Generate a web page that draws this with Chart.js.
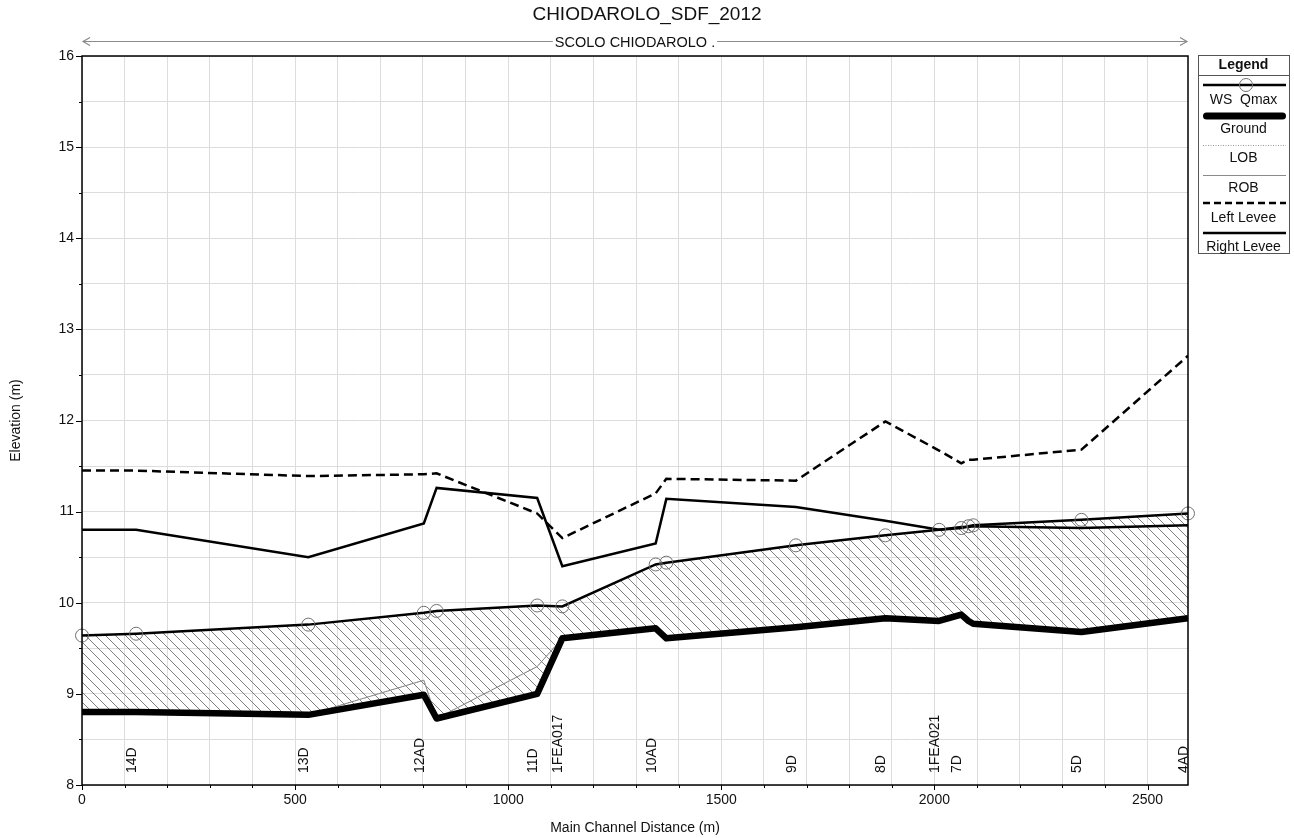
<!DOCTYPE html>
<html>
<head>
<meta charset="utf-8">
<script src="https://cdn.jsdelivr.net/npm/chart.js@4.4.1/dist/chart.umd.min.js"></script>
<style>
  html, body { margin: 0; padding: 0; background: #fff; }
  canvas { display: block; }
</style>
</head>
<body>
<canvas id="profile" width="1294" height="838"></canvas>
<script>
// Cross-section stations along the main channel (m)
const stations   = [0, 127, 531, 802, 832, 1068, 1127, 1346, 1371, 1675, 1885, 2011, 2063, 2080, 2091, 2345, 2595];
const xsNames    = ['', '14D', '13D', '12AD', '', '11D', '1FEA017', '10AD', '', '9D', '8D', '1FEA021', '7D', '', '', '5D', '4AD'];
// Elevations (m)
const wsQmax     = [9.64, 9.66, 9.76, 9.89, 9.91, 9.97, 9.96, 10.42, 10.44, 10.63, 10.74, 10.80, 10.82, 10.84, 10.85, 10.91, 10.98];
const ground     = [8.80, 8.80, 8.77, 8.99, 8.73, 9.00, 9.61, 9.72, 9.61, 9.73, 9.83, 9.80, 9.87, 9.80, 9.77, 9.68, 9.83];
const lob        = [8.80, 8.80, 8.77, 9.15, 8.73, 9.30, 9.61, 9.72, 9.61, 9.73, 9.83, 9.80, 9.87, 9.80, 9.77, 9.68, 9.83];
const rob        = [8.80, 8.80, 8.77, 9.15, 8.73, 9.30, 9.61, 9.72, 9.61, 9.73, 9.83, 9.80, 9.87, 9.80, 9.77, 9.68, 9.83];
const leftLevee  = [11.45, 11.45, 11.39, 11.41, 11.42, 10.98, 10.71, 11.20, 11.36, 11.34, 11.99, 11.67, 11.53, 11.57, 11.57, 11.68, 12.71];
const rightLevee = [10.80, 10.80, 10.50, 10.87, 11.26, 11.15, 10.40, 10.65, 11.14, 11.05, 10.90, 10.80, 10.83, 10.83, 10.84, 10.82, 10.85];
// Axis ticks
const xTicks = [0, 100, 200, 300, 400, 500, 600, 700, 800, 900, 1000, 1100, 1200, 1300, 1400, 1500, 1600, 1700, 1800, 1900, 2000, 2100, 2200, 2300, 2400, 2500];
const xLabels = [0, 500, 1000, 1500, 2000, 2500];
const yTicks = [8, 8.5, 9, 9.5, 10, 10.5, 11, 11.5, 12, 12.5, 13, 13.5, 14, 14.5, 15, 15.5, 16];
const yLabels = [8, 9, 10, 11, 12, 13, 14, 15, 16];

const FONT = '"Liberation Sans", Arial, sans-serif';
const pts = arr => stations.map((s, i) => ({ x: s, y: arr[i] }));

// diagonal hatch used for the flow area
function hatchPattern() {
  const size = 10;
  const c = document.createElement('canvas');
  c.width = size; c.height = size;
  const g = c.getContext('2d');
  g.strokeStyle = '#707070';
  g.lineWidth = 0.9;
  g.beginPath();
  g.moveTo(-1, -1); g.lineTo(size + 1, size + 1);
  g.moveTo(-1, size - 1); g.lineTo(1, size + 1);
  g.moveTo(size - 1, -1); g.lineTo(size + 1, 1);
  g.stroke();
  return g.createPattern(c, 'repeat');
}

const decorations = {
  id: 'decorations',
  afterDatasetsDraw(chart) {
    const { ctx, chartArea: a, scales: { x, y } } = chart;
    ctx.save();
    // frame
    ctx.strokeStyle = '#000';
    ctx.lineWidth = 1.5;
    ctx.strokeRect(a.left, a.top, a.right - a.left, a.bottom - a.top);
    // tick marks
    ctx.lineWidth = 1;
    ctx.beginPath();
    yTicks.forEach(v => {
      const py = Math.round(y.getPixelForValue(v)) + 0.5;
      const len = yLabels.includes(v) ? 6 : 3;
      ctx.moveTo(a.left - len, py); ctx.lineTo(a.left, py);
    });
    xTicks.forEach(v => {
      const px = Math.round(x.getPixelForValue(v)) + 0.5;
      const len = xLabels.includes(v) ? 5 : 3;
      ctx.moveTo(px, a.bottom); ctx.lineTo(px, a.bottom + len);
    });
    ctx.stroke();
    // cross-section names
    ctx.fillStyle = '#111';
    ctx.font = '14px ' + FONT;
    ctx.textAlign = 'left';
    ctx.textBaseline = 'alphabetic';
    stations.forEach((s, i) => {
      if (!xsNames[i]) return;
      const px = x.getPixelForValue(s);
      ctx.save();
      ctx.translate(px, a.bottom - 12);
      ctx.rotate(-Math.PI / 2);
      ctx.fillText(xsNames[i], 0, 0);
      ctx.restore();
    });
    ctx.restore();
  },
  afterDraw(chart) {
    const { ctx, chartArea: a } = chart;
    ctx.save();
    ctx.fillStyle = '#111';
    ctx.textAlign = 'center';
    ctx.textBaseline = 'middle';
    // title
    ctx.font = '19px ' + FONT;
    ctx.fillText('CHIODAROLO_SDF_2012', chart.width / 2, 15);
    // reach arrow with its name
    const ay = 41.5;
    ctx.strokeStyle = '#8a8a8a';
    ctx.lineWidth = 1.2;
    ctx.beginPath();
    ctx.moveTo(a.left + 1, ay); ctx.lineTo(a.right - 1, ay);
    ctx.moveTo(a.left + 8, ay - 4); ctx.lineTo(a.left + 1, ay); ctx.lineTo(a.left + 8, ay + 4);
    ctx.moveTo(a.right - 8, ay - 4); ctx.lineTo(a.right - 1, ay); ctx.lineTo(a.right - 8, ay + 4);
    ctx.stroke();
    ctx.font = '14.5px ' + FONT;
    const reach = 'SCOLO CHIODAROLO .';
    const cx = (a.left + a.right) / 2;
    const w = ctx.measureText(reach).width;
    ctx.fillStyle = '#fff';
    ctx.fillRect(cx - w / 2 - 2, ay - 8, w + 4, 16);
    ctx.fillStyle = '#111';
    ctx.fillText(reach, cx, ay + 1);
    // axis titles
    ctx.font = '14px ' + FONT;
    ctx.fillText('Main Channel Distance (m)', cx, 828);
    ctx.save();
    ctx.translate(16, (a.top + a.bottom) / 2);
    ctx.rotate(-Math.PI / 2);
    ctx.fillText('Elevation (m)', 0, 0);
    ctx.restore();

    // legend box
    const L = 1198, R = 1289, T = 55, B = 253, mid = (L + R) / 2;
    const x0 = L + 5, x1 = R - 3;
    ctx.strokeStyle = '#555';
    ctx.lineWidth = 1;
    ctx.strokeRect(L + 0.5, T + 0.5, R - L, B - T);
    ctx.beginPath(); ctx.moveTo(L, 75.5); ctx.lineTo(R, 75.5); ctx.stroke();
    ctx.font = 'bold 14px ' + FONT;
    ctx.fillText('Legend', mid, 65);
    ctx.font = '14px ' + FONT;
    const seg = (yy, color, width, dash, inset) => {
      const d = inset || 0;
      ctx.save();
      ctx.strokeStyle = color; ctx.lineWidth = width; ctx.setLineDash(dash || []);
      ctx.beginPath(); ctx.moveTo(x0 + d, yy); ctx.lineTo(x1 - d, yy); ctx.stroke();
      ctx.restore();
    };
    seg(85, '#000', 2.5);
    ctx.strokeStyle = '#707070'; ctx.lineWidth = 1;
    ctx.beginPath(); ctx.arc(1246, 85, 6.5, 0, Math.PI * 2); ctx.stroke();
    ctx.fillText('WS  Qmax', mid, 100);
    ctx.save(); ctx.lineCap = 'round'; seg(116, '#000', 7, null, 3.5); ctx.restore();
    ctx.fillText('Ground', mid, 129);
    seg(145.5, '#9a9a9a', 1, [1, 1.5]);
    ctx.fillText('LOB', mid, 158);
    seg(175.5, '#8a8a8a', 1);
    ctx.fillText('ROB', mid, 188);
    seg(203, '#000', 2.5, [7, 4]);
    ctx.fillText('Left Levee', mid, 218);
    seg(233, '#000', 2.5);
    ctx.fillText('Right Levee', mid, 247);
    ctx.restore();
  }
};

new Chart(document.getElementById('profile'), {
  type: 'line',
  data: {
    datasets: [
      {
        label: 'WS  Qmax', data: pts(wsQmax), fill: 1,
        backgroundColor: hatchPattern(),
        borderColor: '#000', borderWidth: 2.5,
        pointRadius: 6.5, pointBorderColor: '#707070', pointBorderWidth: 1,
        pointBackgroundColor: 'rgba(0,0,0,0)', clip: false, order: 1
      },
      {
        label: 'Ground', data: pts(ground), fill: false,
        borderColor: '#000', borderWidth: 6.5, borderJoinStyle: 'round',
        pointRadius: 0, order: 0
      },
      {
        label: 'LOB', data: pts(lob), fill: false,
        borderColor: '#9a9a9a', borderWidth: 1, borderDash: [1, 1.5],
        pointRadius: 0, order: 3
      },
      {
        label: 'ROB', data: pts(rob), fill: false,
        borderColor: '#8a8a8a', borderWidth: 1,
        pointRadius: 0, order: 2
      },
      {
        label: 'Left Levee', data: pts(leftLevee), fill: false,
        borderColor: '#000', borderWidth: 2.5, borderDash: [9, 5],
        pointRadius: 0, order: 1
      },
      {
        label: 'Right Levee', data: pts(rightLevee), fill: false,
        borderColor: '#000', borderWidth: 2.5,
        pointRadius: 0, order: 1
      }
    ]
  },
  options: {
    responsive: false,
    animation: false,
    devicePixelRatio: 1,
    layout: { padding: { top: 56, right: 106, bottom: 0, left: 0 } },
    elements: { line: { tension: 0 } },
    plugins: {
      legend: { display: false },
      tooltip: { enabled: false },
      title: { display: false },
      filler: { drawTime: 'beforeDatasetsDraw' }
    },
    scales: {
      x: {
        type: 'linear', min: 0, max: 2595,
        afterBuildTicks: s => { s.ticks = xTicks.map(v => ({ value: v })); },
        afterFit: s => { s.height = 53; },
        grid: { color: '#dcdcdc', lineWidth: 1, drawTicks: false },
        border: { display: false },
        ticks: {
          autoSkip: false, maxRotation: 0, padding: 7,
          color: '#111', font: { family: FONT, size: 14 },
          callback: v => xLabels.includes(v) ? String(v) : ''
        }
      },
      y: {
        type: 'linear', min: 8, max: 16,
        afterBuildTicks: s => { s.ticks = yTicks.map(v => ({ value: v })); },
        afterFit: s => { s.width = 82; },
        grid: { color: '#dcdcdc', lineWidth: 1, drawTicks: false },
        border: { display: false },
        ticks: {
          autoSkip: false, padding: 8,
          color: '#111', font: { family: FONT, size: 14 },
          callback: v => yLabels.includes(v) ? String(v) : ''
        }
      }
    }
  },
  plugins: [decorations]
});
</script>
</body>
</html>
